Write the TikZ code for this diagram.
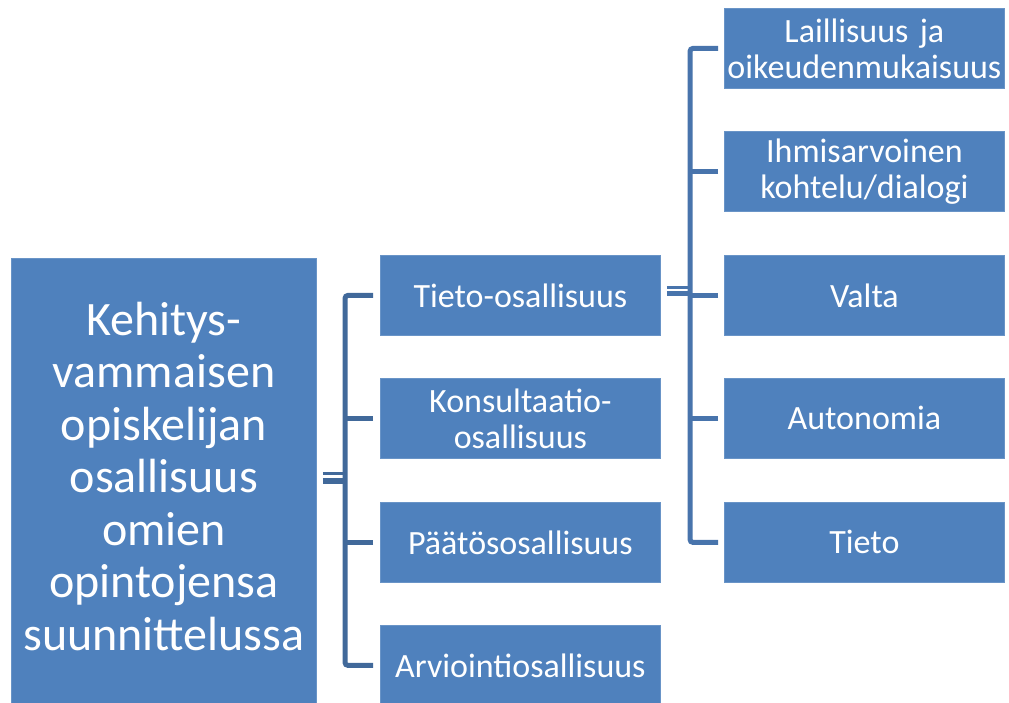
\documentclass[tikz,border=0pt]{standalone}
\usepackage{fontspec}
\setmainfont{Carlito}
\definecolor{boxblue}{HTML}{4F81BD}
\definecolor{connL}{HTML}{41699A}
\definecolor{connR}{HTML}{4874AC}
\begin{document}
\begin{tikzpicture}[x=1pt,y=-1pt,
  box/.style={fill=boxblue, draw=boxblue!85!white, line width=0.8pt, text=white, inner sep=0pt, anchor=north west, align=center},
  mbox/.style={box, minimum width=280pt, minimum height=80pt, text width=278pt, font=\fontsize{34}{36}\selectfont},
  conn/.style={line width=5pt, rounded corners=3pt},
]
\useasboundingbox (0,0) rectangle (1009,702);
\clip (0,0) rectangle (1009,702);
\fill[white] (0,0) rectangle (1009,702);
\node[box, minimum width=305pt, minimum height=450pt, text width=303pt, font=\fontsize{48}{52.5}\selectfont] (root) at (11,258) {Kehitys-\\vammaisen\\opiskelijan\\osallisuus\\omien\\opintojensa\\suunnittelussa\\[-38pt]\mbox{}};
\node[mbox] (m1) at (380,255) {Tieto-osallisuus};
\node[mbox] (m2) at (380,378) {Konsultaatio-\\osallisuus};
\node[mbox] (m3) at (380,502) {Päätösosallisuus};
\node[mbox] (m4) at (380,625) {Arviointiosallisuus};
\node[mbox] (r1) at (724,8) {Laillisuus ja\\oikeudenmukaisuus};
\node[mbox] (r2) at (724,131) {Ihmisarvoinen\\kohtelu/dialogi};
\node[mbox] (r3) at (724,255) {Valta};
\node[mbox] (r4) at (724,378) {Autonomia};
\node[mbox] (r5) at (724,502) {Tieto};
% left bracket
\draw[conn, connL] ([xshift=-7pt]m1.west) -| ([xshift=-35pt]m4.west) -- ([xshift=-7pt]m4.west);
\draw[conn, connL] ([xshift=-7pt]m2.west) -- ([xshift=-35pt]m2.west);
\draw[conn, connL] ([xshift=-7pt]m3.west) -- ([xshift=-35pt]m3.west);
\draw[connL, line width=3pt] ([xshift=6pt,yshift=10pt]root.east) -- ([xshift=29pt,yshift=10pt]root.east);
\draw[connL, line width=6pt] ([xshift=6pt,yshift=2pt]root.east) -- ([xshift=29pt,yshift=2pt]root.east);
% right bracket
\draw[conn, connR] ([xshift=-6pt]r1.west) -| ([xshift=-34pt]r5.west) -- ([xshift=-6pt]r5.west);
\draw[conn, connR] ([xshift=-6pt]r2.west) -- ([xshift=-34pt]r2.west);
\draw[conn, connR] ([xshift=-6pt]r3.west) -- ([xshift=-34pt]r3.west);
\draw[conn, connR] ([xshift=-6pt]r4.west) -- ([xshift=-34pt]r4.west);
\draw[connR, line width=3pt] ([xshift=6pt,yshift=8pt]m1.east) -- ([xshift=30pt,yshift=8pt]m1.east);
\draw[connR, line width=5pt] ([xshift=6pt,yshift=2pt]m1.east) -- ([xshift=30pt,yshift=2pt]m1.east);
\end{tikzpicture}
\end{document}
